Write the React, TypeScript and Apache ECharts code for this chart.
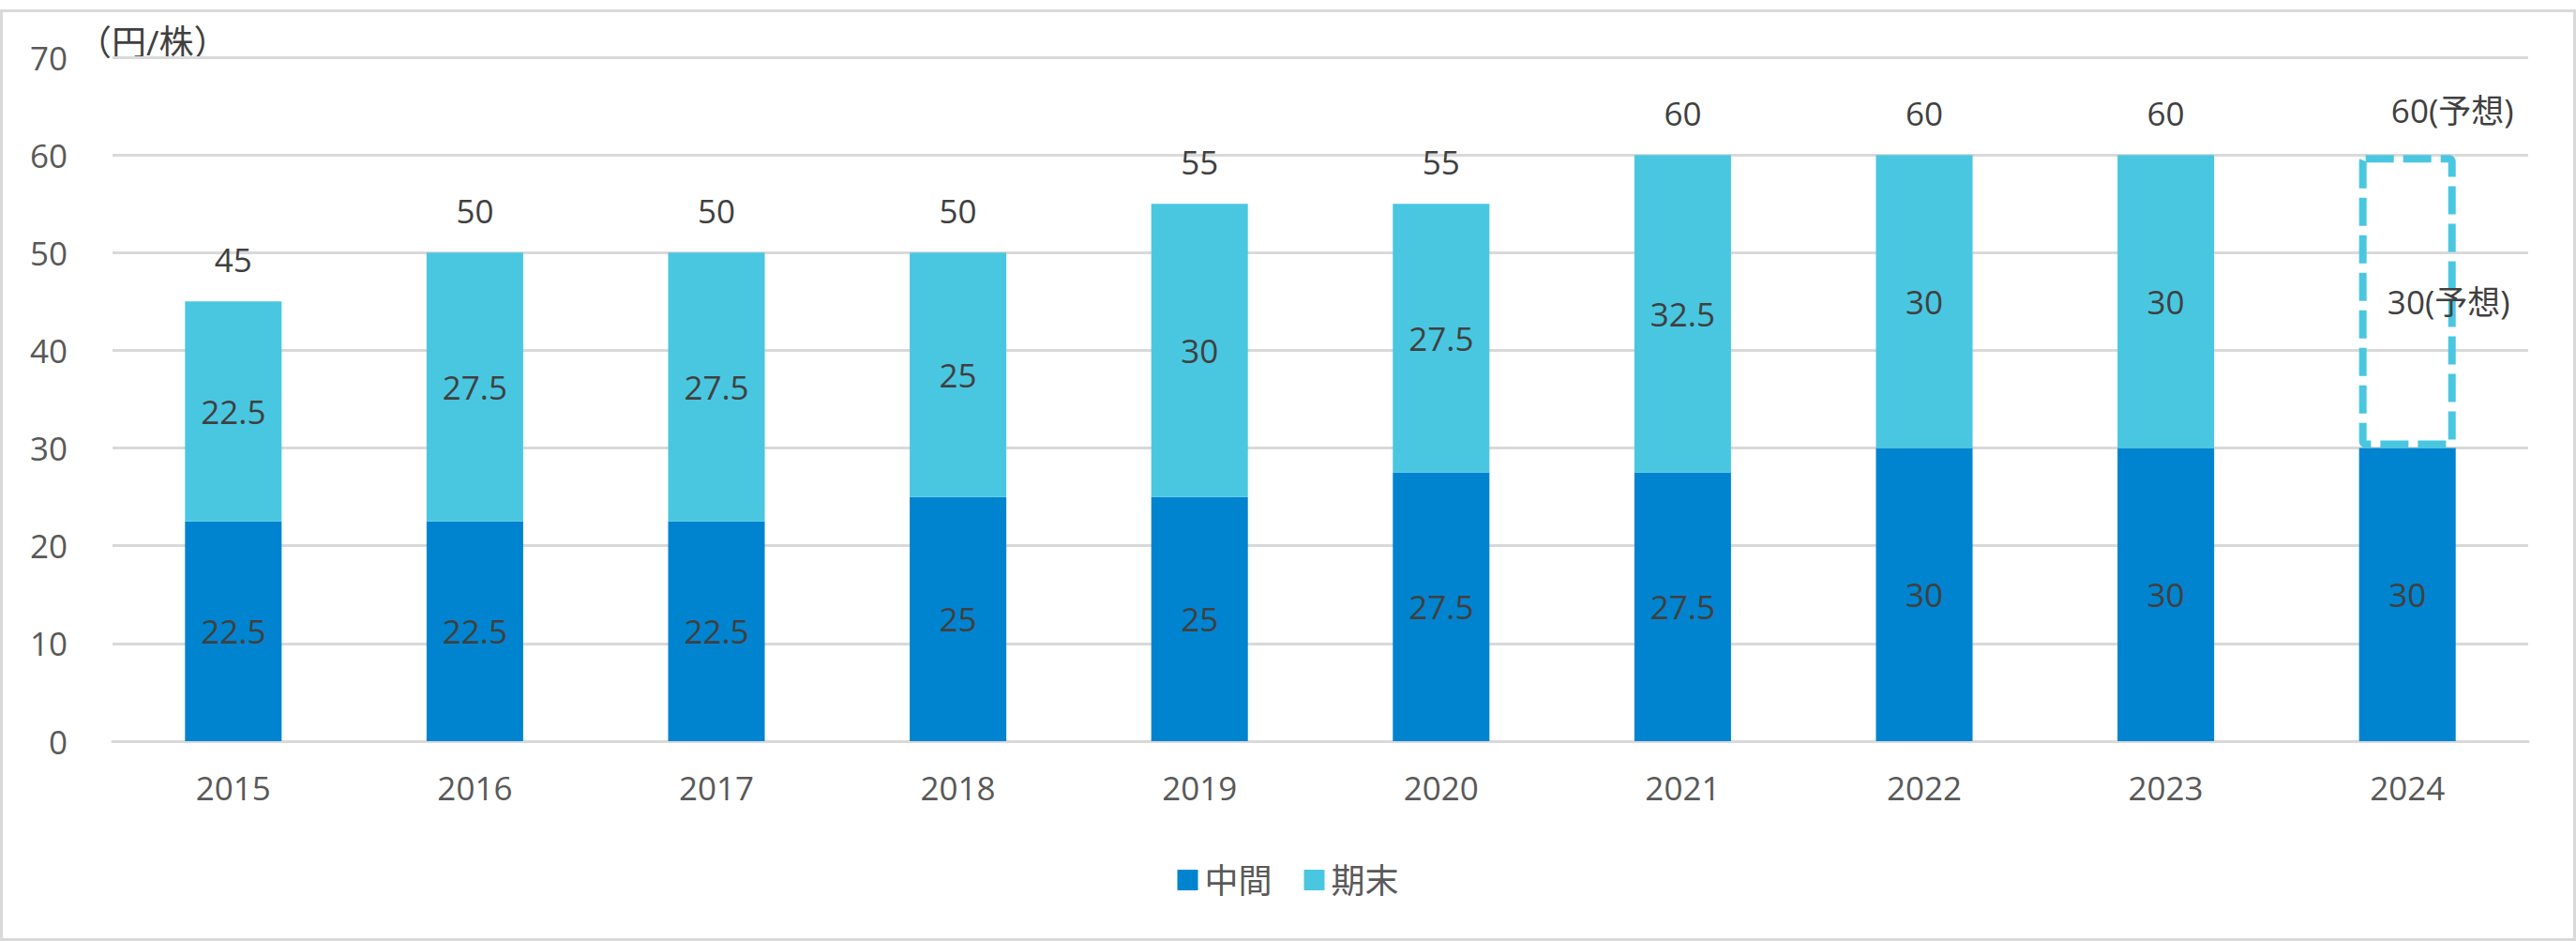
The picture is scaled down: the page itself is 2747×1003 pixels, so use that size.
import React, { useEffect, useRef } from "react";
import * as echarts from "echarts";

const years = ["2015", "2016", "2017", "2018", "2019", "2020", "2021", "2022", "2023", "2024"];
const interim = [22.5, 22.5, 22.5, 25, 25, 27.5, 27.5, 30, 30, 30];
const yearEnd = [22.5, 27.5, 27.5, 25, 30, 27.5, 32.5, 30, 30, 30];
const totals = [45, 50, 50, 50, 55, 55, 60, 60, 60, 60];
const forecastIndex = 9;
const forecastSuffix = "(予想)";
const seriesNames = ["中間", "期末"];
const unitLabel = "（円/株）";
const yTicks = { min: 0, max: 70, interval: 10 };

const FONT = "'Open Sans', 'Noto Sans CJK JP', sans-serif";
const C_INTERIM = "#0084CF";
const C_END = "#49C7E1";
const LABEL_COLOR = "#404040";
const AXIS_COLOR = "#595959";
const GRID_COLOR = "#D9D9D9";

export default function App() {
  const ref = useRef<HTMLDivElement>(null);

  useEffect(() => {
    document.body.style.margin = "0";
    if (!ref.current) return;
    const chart = echarts.init(ref.current, null, { renderer: "svg" });

    const labelBase = {
      show: true,
      color: LABEL_COLOR,
      fontSize: 35,
      fontFamily: FONT,
    };

    const option: any = {
      animation: false,
      backgroundColor: "#ffffff",
      textStyle: { fontFamily: FONT },
      grid: { left: 120, right: 51, top: 61, bottom: 213, containLabel: false },
      legend: {
        data: seriesNames,
        left: "center",
        top: 915,
        icon: "rect",
        itemWidth: 22,
        itemHeight: 22,
        itemGap: 34,
        textStyle: { fontSize: 36, color: AXIS_COLOR, fontFamily: FONT, padding: [0, 0, 0, 2] },
      },
      xAxis: {
        type: "category",
        data: years,
        axisLine: { show: true, lineStyle: { color: GRID_COLOR, width: 3 } },
        axisTick: { show: false },
        axisLabel: { color: AXIS_COLOR, fontSize: 35, fontFamily: FONT, margin: 32 },
      },
      yAxis: {
        type: "value",
        min: yTicks.min,
        max: yTicks.max,
        interval: yTicks.interval,
        axisLine: { show: false },
        axisTick: { show: false },
        axisLabel: { color: AXIS_COLOR, fontSize: 35, fontFamily: FONT, margin: 48 },
        splitLine: { lineStyle: { color: GRID_COLOR, width: 3 } },
      },
      graphic: [
        {
          type: "rect",
          shape: { x: 1.5, y: 11.5, width: 2744, height: 990 },
          style: { fill: "none", stroke: GRID_COLOR, lineWidth: 3 },
          silent: true,
          z: -10,
        },
        {
          type: "text",
          x: 82,
          y: 44,
          style: {
            text: unitLabel,
            fontSize: 37,
            fontFamily: FONT,
            fill: LABEL_COLOR,
            verticalAlign: "middle",
            align: "left",
          },
        },
      ],
      series: [
        {
          name: seriesNames[0],
          type: "bar",
          stack: "div",
          barWidth: "40%",
          data: interim,
          itemStyle: { color: C_INTERIM },
          label: { ...labelBase, position: "inside" },
        },
        {
          name: seriesNames[1],
          type: "bar",
          stack: "div",
          barWidth: "40%",
          data: yearEnd.map((v, i) =>
            i === forecastIndex
              ? {
                  value: v,
                  itemStyle: {
                    color: "rgba(255,255,255,0)",
                    borderColor: C_END,
                    borderWidth: 8,
                    borderType: [30, 10],
                    borderRadius: 3,
                    borderJoin: "round",
                  },
                  label: {
                    formatter: () => `${v}${forecastSuffix}`,
                    offset: [44, 0],
                  },
                }
              : v
          ),
          itemStyle: { color: C_END },
          label: { ...labelBase, position: "inside" },
        },
        {
          name: "total",
          type: "bar",
          barWidth: "40%",
          barGap: "-100%",
          data: totals.map((v, i) =>
            i === forecastIndex
              ? { value: v, label: { formatter: () => `${v}${forecastSuffix}`, offset: [48, -3] } }
              : v
          ),
          itemStyle: { color: "rgba(0,0,0,0)" },
          label: { ...labelBase, position: "top", distance: 27 },
          z: 1,
          silent: true,
        },
      ],
    };

    chart.setOption(option);
    return () => chart.dispose();
  }, []);

  return (
    <div
      ref={ref}
      style={{ position: "absolute", left: 0, top: 0, width: 2747, height: 1003 }}
    />
  );
}
